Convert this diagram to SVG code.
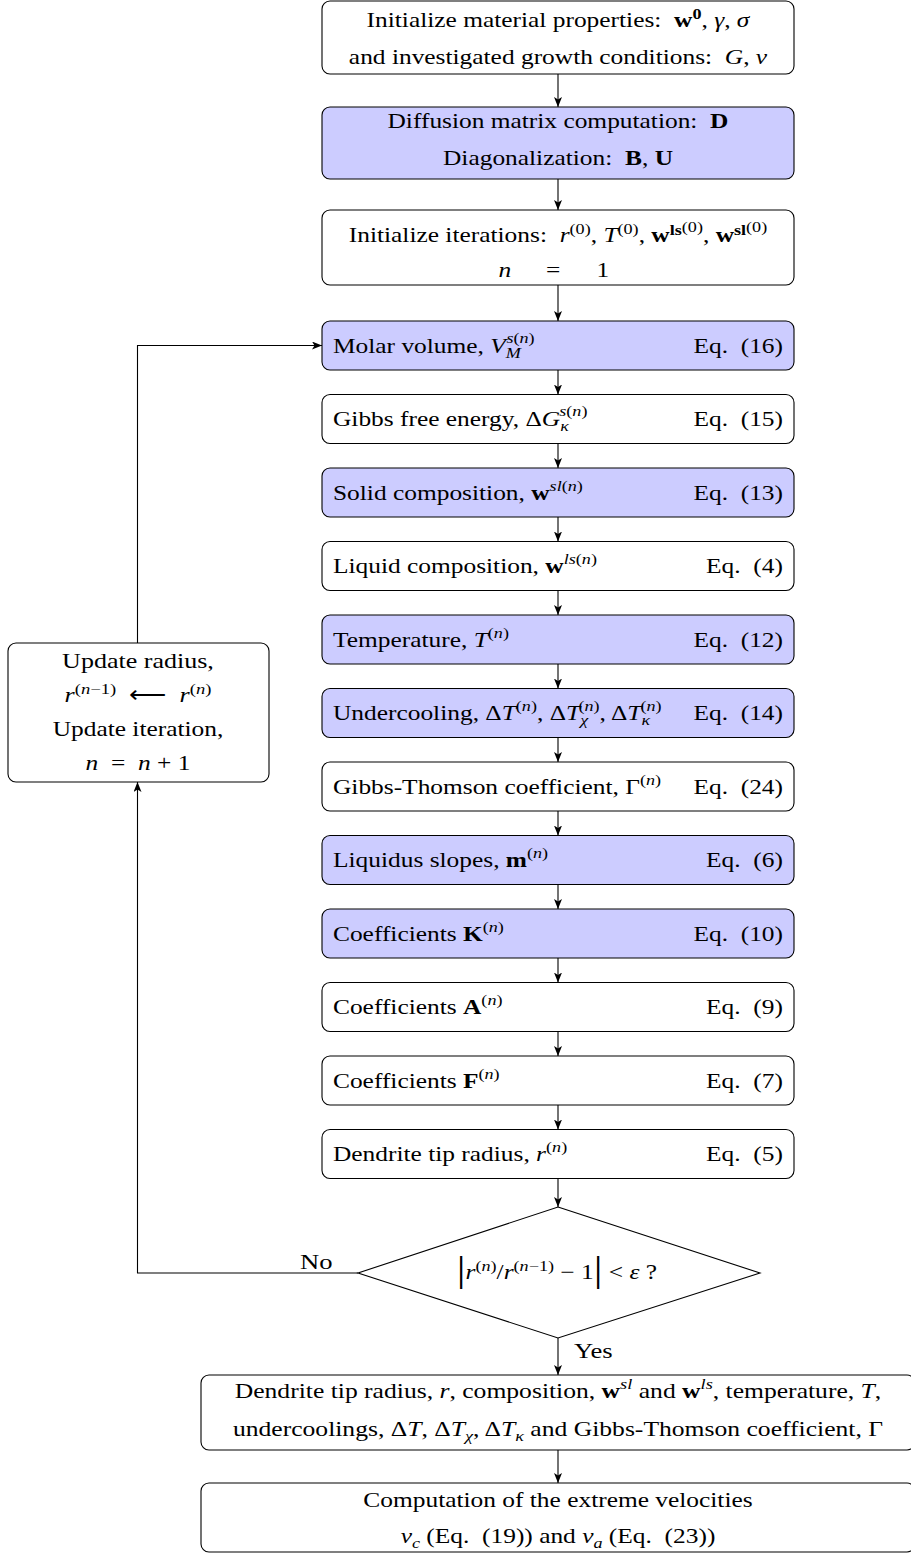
<svg xmlns="http://www.w3.org/2000/svg" width="911" height="1553" viewBox="0 0 911 1553">
<defs>
<style>
.t{font-family:"Liberation Serif","Times New Roman",serif;font-size:21px;fill:#000}
.c{text-anchor:middle}
.e{text-anchor:end}
.i{font-style:italic}
.b{font-weight:bold}
.s{font-size:15px}
.box{stroke:#000;stroke-width:1.1;fill:#fff}
.blue{fill:#ccccff}
.ln{fill:none;stroke:#000;stroke-width:1.1}
</style>
<marker id="ar" viewBox="0 0 10 8" refX="10" refY="4" markerWidth="10" markerHeight="8" markerUnits="userSpaceOnUse" orient="auto">
<path d="M0,0 L10,4 L0,8 L2.5,4 z" fill="#000"/>
</marker>
</defs>
<rect width="911" height="1553" fill="#fff"/>

<g id="connectors">
<line class="ln" x1="558" y1="74" x2="558" y2="107" marker-end="url(#ar)"/>
<line class="ln" x1="558" y1="179" x2="558" y2="210" marker-end="url(#ar)"/>
<line class="ln" x1="558" y1="285" x2="558" y2="321" marker-end="url(#ar)"/>
<line class="ln" x1="558" y1="370" x2="558" y2="394.5" marker-end="url(#ar)"/>
<line class="ln" x1="558" y1="443.5" x2="558" y2="468" marker-end="url(#ar)"/>
<line class="ln" x1="558" y1="517" x2="558" y2="541.5" marker-end="url(#ar)"/>
<line class="ln" x1="558" y1="590.5" x2="558" y2="615" marker-end="url(#ar)"/>
<line class="ln" x1="558" y1="664" x2="558" y2="688.5" marker-end="url(#ar)"/>
<line class="ln" x1="558" y1="737.5" x2="558" y2="762" marker-end="url(#ar)"/>
<line class="ln" x1="558" y1="811" x2="558" y2="835.5" marker-end="url(#ar)"/>
<line class="ln" x1="558" y1="884.5" x2="558" y2="909" marker-end="url(#ar)"/>
<line class="ln" x1="558" y1="958" x2="558" y2="982.5" marker-end="url(#ar)"/>
<line class="ln" x1="558" y1="1031.5" x2="558" y2="1056" marker-end="url(#ar)"/>
<line class="ln" x1="558" y1="1105" x2="558" y2="1129.5" marker-end="url(#ar)"/>
<line class="ln" x1="558" y1="1178.5" x2="558" y2="1207" marker-end="url(#ar)"/>
<line class="ln" x1="558" y1="1338" x2="558" y2="1375" marker-end="url(#ar)"/>
<line class="ln" x1="558" y1="1450" x2="558" y2="1483" marker-end="url(#ar)"/>
<polyline class="ln" points="358,1273 137.5,1273 137.5,782" marker-end="url(#ar)"/>
<polyline class="ln" points="137.5,643 137.5,345.5 322,345.5" marker-end="url(#ar)"/>
<text class="t" x="300" y="1269" style="font-size:22px" transform="matrix(1.21 0 0 1 -63 0)">No</text>
<text class="t" x="574" y="1358" style="font-size:22px" transform="matrix(1.21 0 0 1 -120.54 0)">Yes</text>
</g>

<g id="init-material">
<rect class="box" x="322" y="1" width="472" height="73" rx="8"/>
<text class="t c" x="558" y="27" transform="matrix(1.21 0 0 1 -117.18 0)">Initialize material properties:&#160; <tspan class="b">w</tspan><tspan class="s b" dy="-8">0</tspan><tspan dy="8">, </tspan><tspan class="i">γ</tspan>, <tspan class="i">σ</tspan></text>
<text class="t c" x="558" y="64" transform="matrix(1.21 0 0 1 -117.18 0)">and investigated growth conditions:&#160; <tspan class="i">G</tspan>, <tspan class="i">v</tspan></text>
</g>

<g id="diffusion">
<rect class="box blue" x="322" y="107" width="472" height="72" rx="8"/>
<text class="t c" x="558" y="128" transform="matrix(1.21 0 0 1 -117.18 0)">Diffusion matrix computation:&#160; <tspan class="b">D</tspan></text>
<text class="t c" x="558" y="165" transform="matrix(1.21 0 0 1 -117.18 0)">Diagonalization:&#160; <tspan class="b">B</tspan>, <tspan class="b">U</tspan></text>
</g>

<g id="init-iter">
<rect class="box" x="322" y="210" width="472" height="75" rx="8"/>
<text class="t c" x="558" y="242" transform="matrix(1.21 0 0 1 -117.18 0)">Initialize iterations:&#160; <tspan class="i">r</tspan><tspan class="s" dy="-8">(0)</tspan><tspan dy="8">, </tspan><tspan class="i">T</tspan><tspan class="s" dy="-8">(0)</tspan><tspan dy="8">, </tspan><tspan class="b">w</tspan><tspan class="s b" dy="-7">ls</tspan><tspan class="s" dy="-3">(0)</tspan><tspan dy="10">, </tspan><tspan class="b">w</tspan><tspan class="s b" dy="-7">sl</tspan><tspan class="s" dy="-3">(0)</tspan></text>
<text class="t" y="277" transform="matrix(1.21 0 0 1 -117.18 0)"><tspan class="i c" x="514">n</tspan><tspan class="c" x="554">=</tspan><tspan class="c" x="595">1</tspan></text>
</g>

<g id="molar-volume">
<rect class="box blue" x="322" y="321" width="472" height="49" rx="8"/>
<text class="t" x="333" y="353" transform="matrix(1.21 0 0 1 -69.93 0)">Molar volume, <tspan class="i">V</tspan><tspan class="s i" dy="5">M</tspan><tspan class="s" dx="-12" dy="-15"><tspan class="i">s</tspan>(<tspan class="i">n</tspan>)</tspan></text>
<text class="t e" x="783" y="353" transform="matrix(1.21 0 0 1 -164.43 0)">Eq.&#160; (16)</text>
</g>

<g id="gibbs-energy">
<rect class="box" x="322" y="394.5" width="472" height="49" rx="8"/>
<text class="t" x="333" y="426.5" transform="matrix(1.21 0 0 1 -69.93 0)">Gibbs free energy, Δ<tspan class="i">G</tspan><tspan class="s i" dy="5">κ</tspan><tspan class="s" dx="-8" dy="-15"><tspan class="i">s</tspan>(<tspan class="i">n</tspan>)</tspan></text>
<text class="t e" x="783" y="426.5" transform="matrix(1.21 0 0 1 -164.43 0)">Eq.&#160; (15)</text>
</g>

<g id="solid-comp">
<rect class="box blue" x="322" y="468" width="472" height="49" rx="8"/>
<text class="t" x="333" y="500" transform="matrix(1.21 0 0 1 -69.93 0)">Solid composition, <tspan class="b">w</tspan><tspan class="s" dy="-9"><tspan class="i">sl</tspan>(<tspan class="i">n</tspan>)</tspan></text>
<text class="t e" x="783" y="500" transform="matrix(1.21 0 0 1 -164.43 0)">Eq.&#160; (13)</text>
</g>

<g id="liquid-comp">
<rect class="box" x="322" y="541.5" width="472" height="49" rx="8"/>
<text class="t" x="333" y="573.5" transform="matrix(1.21 0 0 1 -69.93 0)">Liquid composition, <tspan class="b">w</tspan><tspan class="s" dy="-9"><tspan class="i">ls</tspan>(<tspan class="i">n</tspan>)</tspan></text>
<text class="t e" x="783" y="573.5" transform="matrix(1.21 0 0 1 -164.43 0)">Eq.&#160; (4)</text>
</g>

<g id="temperature">
<rect class="box blue" x="322" y="615" width="472" height="49" rx="8"/>
<text class="t" x="333" y="647" transform="matrix(1.21 0 0 1 -69.93 0)">Temperature, <tspan class="i">T</tspan><tspan class="s" dy="-9">(<tspan class="i">n</tspan>)</tspan></text>
<text class="t e" x="783" y="647" transform="matrix(1.21 0 0 1 -164.43 0)">Eq.&#160; (12)</text>
</g>

<g id="undercooling">
<rect class="box blue" x="322" y="688.5" width="472" height="49" rx="8"/>
<text class="t" x="333" y="720.5" transform="matrix(1.21 0 0 1 -69.93 0)">Undercooling, Δ<tspan class="i">T</tspan><tspan class="s" dy="-9">(<tspan class="i">n</tspan>)</tspan><tspan dy="9">, Δ</tspan><tspan class="i">T</tspan><tspan class="s i" dy="5">χ</tspan><tspan class="s" dx="-8" dy="-14">(<tspan class="i">n</tspan>)</tspan><tspan dy="9">, Δ</tspan><tspan class="i">T</tspan><tspan class="s i" dy="5">κ</tspan><tspan class="s" dx="-8" dy="-14">(<tspan class="i">n</tspan>)</tspan></text>
<text class="t e" x="783" y="720.5" transform="matrix(1.21 0 0 1 -164.43 0)">Eq.&#160; (14)</text>
</g>

<g id="gibbs-thomson">
<rect class="box" x="322" y="762" width="472" height="49" rx="8"/>
<text class="t" x="333" y="794" transform="matrix(1.21 0 0 1 -69.93 0)">Gibbs-Thomson coefficient, Γ<tspan class="s" dy="-9">(<tspan class="i">n</tspan>)</tspan></text>
<text class="t e" x="783" y="794" transform="matrix(1.21 0 0 1 -164.43 0)">Eq.&#160; (24)</text>
</g>

<g id="liquidus-slopes">
<rect class="box blue" x="322" y="835.5" width="472" height="49" rx="8"/>
<text class="t" x="333" y="867.5" transform="matrix(1.21 0 0 1 -69.93 0)">Liquidus slopes, <tspan class="b">m</tspan><tspan class="s" dy="-9">(<tspan class="i">n</tspan>)</tspan></text>
<text class="t e" x="783" y="867.5" transform="matrix(1.21 0 0 1 -164.43 0)">Eq.&#160; (6)</text>
</g>

<g id="coeff-k">
<rect class="box blue" x="322" y="909" width="472" height="49" rx="8"/>
<text class="t" x="333" y="941" transform="matrix(1.21 0 0 1 -69.93 0)">Coefficients <tspan class="b">K</tspan><tspan class="s" dy="-9">(<tspan class="i">n</tspan>)</tspan></text>
<text class="t e" x="783" y="941" transform="matrix(1.21 0 0 1 -164.43 0)">Eq.&#160; (10)</text>
</g>

<g id="coeff-a">
<rect class="box" x="322" y="982.5" width="472" height="49" rx="8"/>
<text class="t" x="333" y="1014.5" transform="matrix(1.21 0 0 1 -69.93 0)">Coefficients <tspan class="b">A</tspan><tspan class="s" dy="-9">(<tspan class="i">n</tspan>)</tspan></text>
<text class="t e" x="783" y="1014.5" transform="matrix(1.21 0 0 1 -164.43 0)">Eq.&#160; (9)</text>
</g>

<g id="coeff-f">
<rect class="box" x="322" y="1056" width="472" height="49" rx="8"/>
<text class="t" x="333" y="1088" transform="matrix(1.21 0 0 1 -69.93 0)">Coefficients <tspan class="b">F</tspan><tspan class="s" dy="-9">(<tspan class="i">n</tspan>)</tspan></text>
<text class="t e" x="783" y="1088" transform="matrix(1.21 0 0 1 -164.43 0)">Eq.&#160; (7)</text>
</g>

<g id="tip-radius">
<rect class="box" x="322" y="1129.5" width="472" height="49" rx="8"/>
<text class="t" x="333" y="1161.5" transform="matrix(1.21 0 0 1 -69.93 0)">Dendrite tip radius, <tspan class="i">r</tspan><tspan class="s" dy="-9">(<tspan class="i">n</tspan>)</tspan></text>
<text class="t e" x="783" y="1161.5" transform="matrix(1.21 0 0 1 -164.43 0)">Eq.&#160; (5)</text>
</g>

<g id="convergence">
<polygon class="box" points="558,1207 760,1273 558,1338 358,1273"/>
<text class="t c" x="557" y="1281" transform="matrix(1.21 0 0 1 -116.97 0)"><tspan style="font-size:36px">|</tspan><tspan class="i" dy="-2">r</tspan><tspan class="s" dy="-8">(<tspan class="i">n</tspan>)</tspan><tspan dy="8">/</tspan><tspan class="i">r</tspan><tspan class="s" dy="-8">(<tspan class="i">n</tspan>−1)</tspan><tspan dy="8"> − 1</tspan><tspan style="font-size:36px" dy="2">|</tspan><tspan dy="-2"> &lt; </tspan><tspan class="i">ε</tspan> ?</text>
</g>

<g id="update">
<rect class="box" x="8" y="643" width="261" height="139" rx="8"/>
<text class="t c" x="138" y="668" transform="matrix(1.24 0 0 1 -33.12 0)">Update radius,</text>
<text class="t c" x="138" y="702" transform="matrix(1.24 0 0 1 -33.12 0)"><tspan class="i">r</tspan><tspan class="s" dy="-8">(<tspan class="i">n</tspan>−1)</tspan><tspan dy="8">&#160;&#160;⟵&#160;&#160;</tspan><tspan class="i">r</tspan><tspan class="s" dy="-8">(<tspan class="i">n</tspan>)</tspan></text>
<text class="t c" x="138" y="736" transform="matrix(1.21 0 0 1 -28.98 0)">Update iteration,</text>
<text class="t c" x="138" y="770" transform="matrix(1.21 0 0 1 -28.98 0)"><tspan class="i">n</tspan>&#160;&#160;=&#160;&#160;<tspan class="i">n</tspan> + 1</text>
</g>

<g id="results">
<rect class="box" x="201" y="1375" width="714" height="75" rx="8"/>
<text class="t c" x="558" y="1398" transform="matrix(1.22 0 0 1 -122.76 0)">Dendrite tip radius, <tspan class="i">r</tspan>, composition, <tspan class="b">w</tspan><tspan class="s i" dy="-9">sl</tspan><tspan dy="9"> and </tspan><tspan class="b">w</tspan><tspan class="s i" dy="-9">ls</tspan><tspan dy="9">, temperature, </tspan><tspan class="i">T</tspan>,</text>
<text class="t c" x="558" y="1436" transform="matrix(1.22 0 0 1 -122.76 0)">undercoolings, Δ<tspan class="i">T</tspan>, Δ<tspan class="i">T</tspan><tspan class="s i" dy="5">χ</tspan><tspan dy="-5">, Δ</tspan><tspan class="i">T</tspan><tspan class="s i" dy="5">κ</tspan><tspan dy="-5"> and Gibbs-Thomson coefficient, Γ</tspan></text>
</g>

<g id="velocities">
<rect class="box" x="201" y="1483" width="714" height="69" rx="8"/>
<text class="t c" x="558" y="1507" transform="matrix(1.21 0 0 1 -117.18 0)">Computation of the extreme velocities</text>
<text class="t c" x="558" y="1543" transform="matrix(1.21 0 0 1 -117.18 0)"><tspan class="i">v</tspan><tspan class="s i" dy="5">c</tspan><tspan dy="-5"> (Eq.&#160; (19)) and </tspan><tspan class="i">v</tspan><tspan class="s i" dy="5">a</tspan><tspan dy="-5"> (Eq.&#160; (23))</tspan></text>
</g>
</svg>
